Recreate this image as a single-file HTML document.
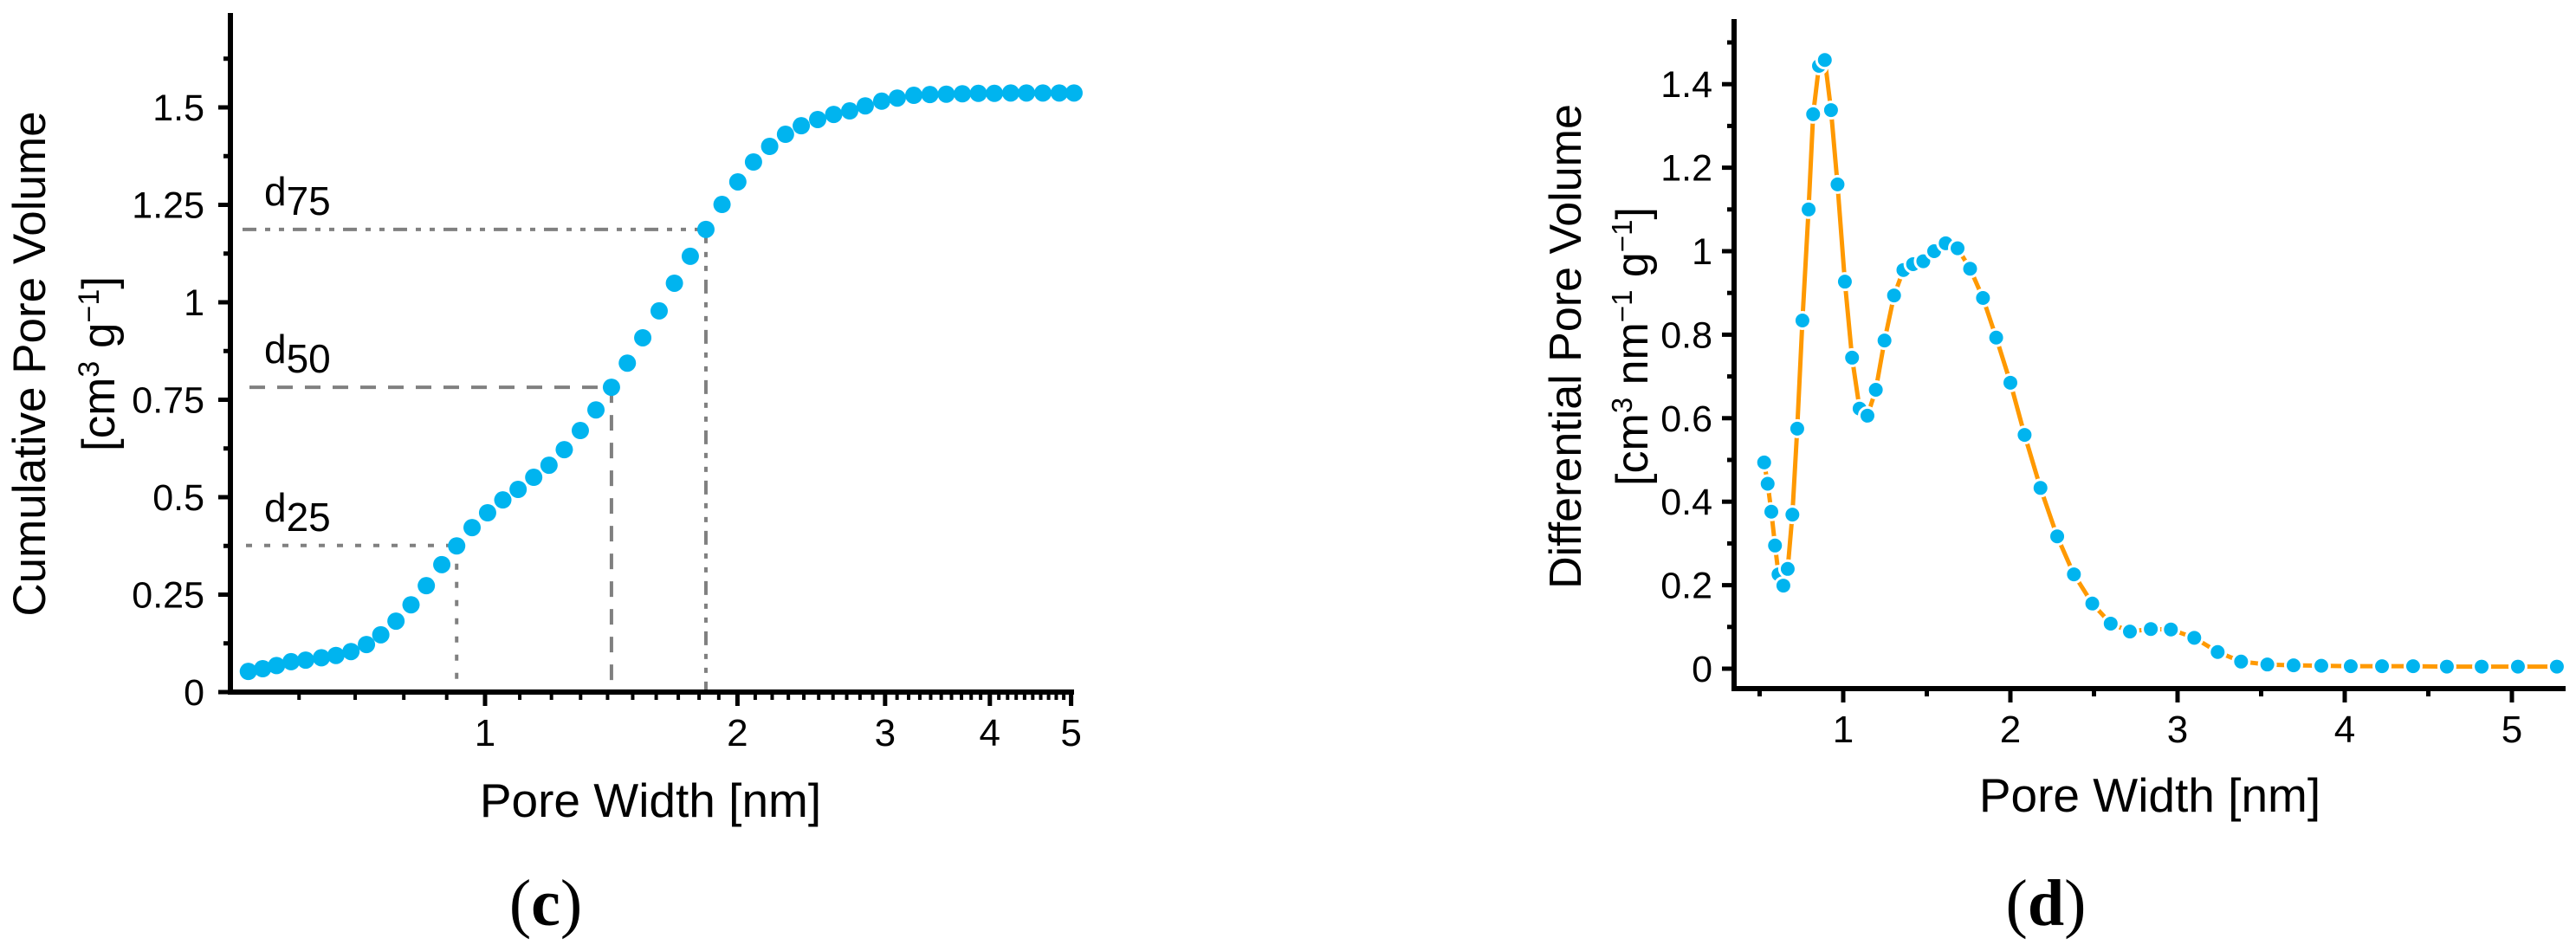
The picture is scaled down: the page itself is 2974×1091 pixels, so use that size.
<!DOCTYPE html>
<html><head><meta charset="utf-8"><style>
html,body{margin:0;padding:0;background:#fff;}
svg{display:block;font-family:"Liberation Sans",sans-serif;}
</style></head><body>
<svg id="fig" width="2974" height="1091" viewBox="0 0 2974 1091" xmlns="http://www.w3.org/2000/svg">
<g id="chartC"></g>
<g id="chartD"></g>
</svg>
<script>
// ---- Chart (c) data ----
const cumX = [0.522,0.543,0.564,0.587,0.611,0.638,0.664,0.692,0.722,0.751,0.783,0.816,0.851,0.888,0.925,0.965,1.007,1.050,1.095,1.143,1.192,1.243,1.299,1.356,1.415,1.478,1.542,1.613,1.682,1.757,1.834,1.917,2.002,2.090,2.185,2.282,2.383,2.493,2.605,2.722,2.841,2.972,3.102,3.246,3.393,3.549,3.709,3.876,4.050,4.236,4.423,4.627,4.840,5.04];
const cumY = [0.053,0.060,0.068,0.078,0.082,0.088,0.094,0.104,0.122,0.147,0.182,0.224,0.273,0.327,0.375,0.422,0.460,0.493,0.520,0.551,0.582,0.622,0.671,0.724,0.782,0.844,0.909,0.978,1.049,1.118,1.187,1.251,1.309,1.360,1.400,1.431,1.453,1.469,1.482,1.491,1.504,1.516,1.524,1.531,1.533,1.534,1.535,1.536,1.536,1.537,1.537,1.537,1.537,1.537];
const cumYTicks = [0,0.25,0.5,0.75,1,1.25,1.5];
const cumYTickLabels = ["0","0.25","0.5","0.75","1","1.25","1.5"];
const cumXTicks = [1,2,3,4,5];
const cumXTickLabels = ["1","2","3","4","5"];
const dLabels = ["75","50","25"];
const dWidths = [1.834,1.415,0.925];
const dVolumes = [1.187,0.782,0.376];

// ---- Chart (d) data ----
const difX = [0.527,0.548,0.570,0.592,0.613,0.642,0.668,0.696,0.725,0.756,0.793,0.820,0.855,0.890,0.927,0.966,1.010,1.053,1.098,1.145,1.195,1.247,1.304,1.360,1.418,1.479,1.544,1.613,1.684,1.759,1.836,1.915,2.000,2.085,2.180,2.280,2.380,2.490,2.600,2.715,2.840,2.960,3.100,3.240,3.380,3.537,3.694,3.860,4.036,4.223,4.409,4.611,4.819,5.036,5.269];
const difY = [0.494,0.443,0.376,0.295,0.226,0.199,0.239,0.369,0.575,0.834,1.100,1.328,1.444,1.458,1.338,1.160,0.927,0.745,0.623,0.606,0.668,0.786,0.894,0.955,0.969,0.976,1.000,1.019,1.007,0.958,0.888,0.793,0.685,0.560,0.433,0.317,0.226,0.156,0.108,0.089,0.095,0.094,0.074,0.040,0.017,0.010,0.008,0.007,0.006,0.006,0.006,0.005,0.005,0.005,0.005];
const difYTicks = [0,0.2,0.4,0.6,0.8,1,1.2,1.4];
const difYTickLabels = ["0","0.2","0.4","0.6","0.8","1","1.2","1.4"];
const difXTicks = [1,2,3,4,5];
const difXTickLabels = ["1","2","3","4","5"];

const NS = "http://www.w3.org/2000/svg";
function mk(parent, tag, attrs, text){
  const e = document.createElementNS(NS, tag);
  for (const k in attrs) e.setAttribute(k, attrs[k]);
  if (text !== undefined) e.textContent = text;
  parent.appendChild(e);
  return e;
}
const BLUE = "#00B4EF", ORANGE = "#FF9900", GRAY = "#808080";

// ================= Chart C =================
(function(){
  const g = document.getElementById("chartC");
  const X0 = 266, X1 = 1238, YB = 799, YT = 15;
  const xs = v => 560 + Math.log10(v) * 968;
  const ys = v => 799 - v * 450;

  let a = mk(g, "line", {x1:X0, y1:YT, x2:X0, y2:YB+3, stroke:"#000","stroke-width":6});
   
  a = mk(g, "line", {x1:X0-3, y1:YB, x2:X1+2, y2:YB, stroke:"#000","stroke-width":6});
   

  for (let v = 0; v <= 1.63; v += 0.125) {
    const major = Math.abs(v/0.25 - Math.round(v/0.25)) < 1e-6;
    const t = mk(g, "line", {x1:X0-(major?14:8), y1:ys(v), x2:X0, y2:ys(v), stroke:"#000","stroke-width":5});
     
  }
  cumYTicks.forEach((v,i)=>{
    const t = mk(g, "text", {x:236, y:ys(v)+15, "text-anchor":"end","font-size":43}, cumYTickLabels[i]);
     
  });
  const minors = [];
  for (let d of [0.1,1]) for (let k=1;k<10;k++){ const v = +(k*d).toFixed(2); if (v>=0.6 && v<=5) minors.push(v); }
  for (let v=1.1; v<5; v+=0.1){ minors.push(+v.toFixed(2)); }
  [...new Set(minors)].forEach(v=>{
    const major = cumXTicks.some(m=>Math.abs(m-v)<1e-6);
    const t = mk(g, "line", {x1:xs(v), y1:YB, x2:xs(v), y2:YB+(major?16:9), stroke:"#000","stroke-width":major?5:4});
     
  });
  cumXTicks.forEach((v,i)=>{
    const t = mk(g, "text", {x:xs(v), y:861, "text-anchor":"middle","font-size":44}, cumXTickLabels[i]);
     
  });

  let t = mk(g, "text", {x:751, y:943, "text-anchor":"middle","font-size":55}, "Pore Width [nm]");
   
  t = mk(g, "text", {transform:"translate(52,420) rotate(-90)", "text-anchor":"middle","font-size":53}, "Cumulative Pore Volume");
   
  t = mk(g, "text", {transform:"translate(132,420) rotate(-90)", "text-anchor":"middle","font-size":53});
   
  t.innerHTML = '[cm<tspan dy="-18" font-size="34">3</tspan><tspan dy="18"> g</tspan><tspan dy="-18" font-size="34">−1</tspan><tspan dy="18">]</tspan>';
  t = mk(g, "text", {x:630, y:1068, "text-anchor":"middle","font-size":76,"font-family":"Liberation Serif, serif"});
   
  t.innerHTML = '(<tspan font-weight="bold">c</tspan>)';

  const dashes = ["16,10,6,10,6,10","18,14","7,14"];
  const lstarts = [280,288,284];
  dLabels.forEach((lab,i)=>{
    const x = xs(dWidths[i]), y = ys(dVolumes[i]);
    let l = mk(g, "line", {x1:lstarts[i], y1:y, x2:x, y2:y, stroke:GRAY,"stroke-width":4,"stroke-dasharray":dashes[i]});
     
    l = mk(g, "line", {x1:x, y1:y, x2:x, y2:YB-3, stroke:GRAY,"stroke-width":4,"stroke-dasharray":dashes[i]});
     
    const tx = mk(g, "text", {x:305, y:y-28, "font-size":46});
     
    tx.innerHTML = 'd<tspan dy="11">'+lab+'</tspan>';
  });

  cumX.forEach((v,i)=>{
    const c = mk(g, "circle", {cx:xs(v), cy:ys(cumY[i]), r:10, fill:BLUE});
     
  });
})();

// ================= Chart D =================
(function(){
  const g = document.getElementById("chartD");
  const X0 = 2002, X1 = 2962, YB = 795, YT = 22;
  const xs = v => 2128 + (v-1)*193;
  const ys = v => 772 - v*482;

  let a = mk(g, "line", {x1:X0, y1:YT, x2:X0, y2:YB+3, stroke:"#000","stroke-width":6});
   
  a = mk(g, "line", {x1:X0-3, y1:YB, x2:X1, y2:YB, stroke:"#000","stroke-width":6});
   

  for (let k=0;k<=15;k++){
    const v = k*0.1, major = k%2===0;
    const t = mk(g, "line", {x1:X0-(major?14:8), y1:ys(v), x2:X0, y2:ys(v), stroke:"#000","stroke-width":5});
     
  }
  difYTicks.forEach((v,i)=>{
    const t = mk(g, "text", {x:1977, y:ys(v)+15, "text-anchor":"end","font-size":43}, difYTickLabels[i]);
     
  });
  for (let k=1;k<=10;k++){
    const v = k*0.5, major = k%2===0;
    const t = mk(g, "line", {x1:xs(v), y1:YB, x2:xs(v), y2:YB+(major?16:9), stroke:"#000","stroke-width":5});
     
  }
  difXTicks.forEach((v,i)=>{
    const t = mk(g, "text", {x:xs(v), y:857, "text-anchor":"middle","font-size":44}, difXTickLabels[i]);
     
  });

  let t = mk(g, "text", {x:2482, y:937, "text-anchor":"middle","font-size":55}, "Pore Width [nm]");
   
  t = mk(g, "text", {transform:"translate(1825,400) rotate(-90)", "text-anchor":"middle","font-size":52}, "Differential Pore Volume");
   
  t = mk(g, "text", {transform:"translate(1902,400) rotate(-90)", "text-anchor":"middle","font-size":52});
   
  t.innerHTML = '[cm<tspan dy="-18" font-size="33">3</tspan><tspan dy="18"> nm</tspan><tspan dy="-18" font-size="33">−1</tspan><tspan dy="18"> g</tspan><tspan dy="-18" font-size="33">−1</tspan><tspan dy="18">]</tspan>';
  t = mk(g, "text", {x:2362, y:1068, "text-anchor":"middle","font-size":76,"font-family":"Liberation Serif, serif"});
   
  t.innerHTML = '(<tspan font-weight="bold">d</tspan>)';

  const pts = difX.map((v,i)=>xs(v).toFixed(1)+","+ys(difY[i]).toFixed(1)).join(" ");
  const pl = mk(g, "polyline", {points:pts, fill:"none", stroke:ORANGE, "stroke-width":5, "stroke-linejoin":"round"});
   
  difX.forEach((v,i)=>{
    const c = mk(g, "circle", {cx:xs(v), cy:ys(difY[i]), r:9.5, fill:BLUE, stroke:"#fff","stroke-width":3});
     
  });
})();
</script>
</body></html>
